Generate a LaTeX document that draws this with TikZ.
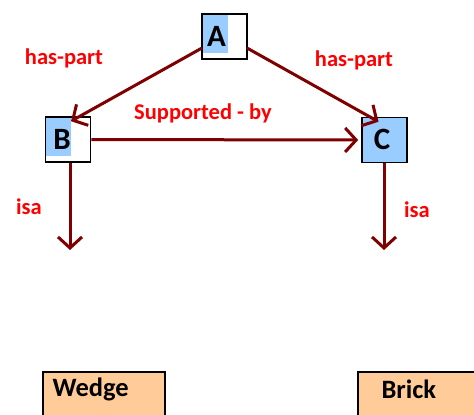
\documentclass[tikz,border=0pt]{standalone}
\usepackage{fontspec}
\setmainfont{Carlito}
\usetikzlibrary{arrows.meta}
\definecolor{lnk}{HTML}{7F0000}
\definecolor{lblred}{HTML}{FF0000}
\definecolor{boxblue}{HTML}{99CCFF}
\definecolor{peach}{HTML}{FFCC99}
\tikzset{
  letterbox/.style={draw=black, line width=1.6pt, minimum width=45pt, minimum height=45pt, inner sep=0pt},
  lettertext/.style={font=\fontsize{31}{34}\selectfont\bfseries, text=black},
  leafbox/.style={draw=black, fill=peach, line width=1.6pt, anchor=north west, minimum height=60pt, inner sep=0pt},
  leaftext/.style={font=\fontsize{26.5}{30}\selectfont\bfseries, text=black, anchor=west},
  link/.style={draw=lnk, line width=3pt, -{Straight Barb[length=11pt,width=24pt,line width=3pt]}},
  lbl/.style={text=lblred, font=\fontsize{22.5}{26}\selectfont\bfseries},
}
\begin{document}
\begin{tikzpicture}[x=1pt,y=-1pt]
\useasboundingbox (0,0) rectangle (474,415);
\clip (0,0) rectangle (474,415);
% highlights
\fill[boxblue] (202,14) rectangle (228,53);
\fill[boxblue] (45,117) rectangle (71,156);
% boxes
\node[letterbox] (A) at (224.5,36.5) {};
\node[letterbox] (B) at (68,139.5) {};
\node[letterbox, fill=boxblue] (C) at (384.5,140) {};
\node[lettertext] (At) at (216.5,36) {A};
\node[lettertext] (Bt) at (62,139) {B};
\node[lettertext] (Ct) at (382,139) {C};
\node[leafbox, minimum width=122pt] (wedge) at (42,371) {};
\node[leafbox, minimum width=130pt] (brick) at (357,371) {};
\node[leaftext] (wt) at (49,389) {Wedge};
\node[leaftext] (bt) at (378,389) {Brick};
% connectors
\coordinate (a1) at (202,48);
\coordinate (a2) at (247,48);
\coordinate (bEnd) at (70,250);
\coordinate (cEnd) at (384,250);
\draw[link] (a1) -- ([xshift=3pt,yshift=-5pt]B.north);
\draw[link] (a2) -- ([xshift=-6pt,yshift=-5pt]C.north);
\draw[link] (B.east) -- ([xshift=-3pt]C.west);
\draw[link] (B.south -| bEnd) -- (bEnd);
\draw[link] (C.south -| cEnd) -- (cEnd);
% labels
\node[lbl] (l1) at (64,58) {has-part};
\node[lbl] (l2) at (354,60) {has-part};
\node[lbl] (l3) at (203,113) {Supported - by};
\node[lbl] (l4) at (29,207) {isa};
\node[lbl] (l5) at (417,210) {isa};
\end{tikzpicture}
\end{document}
